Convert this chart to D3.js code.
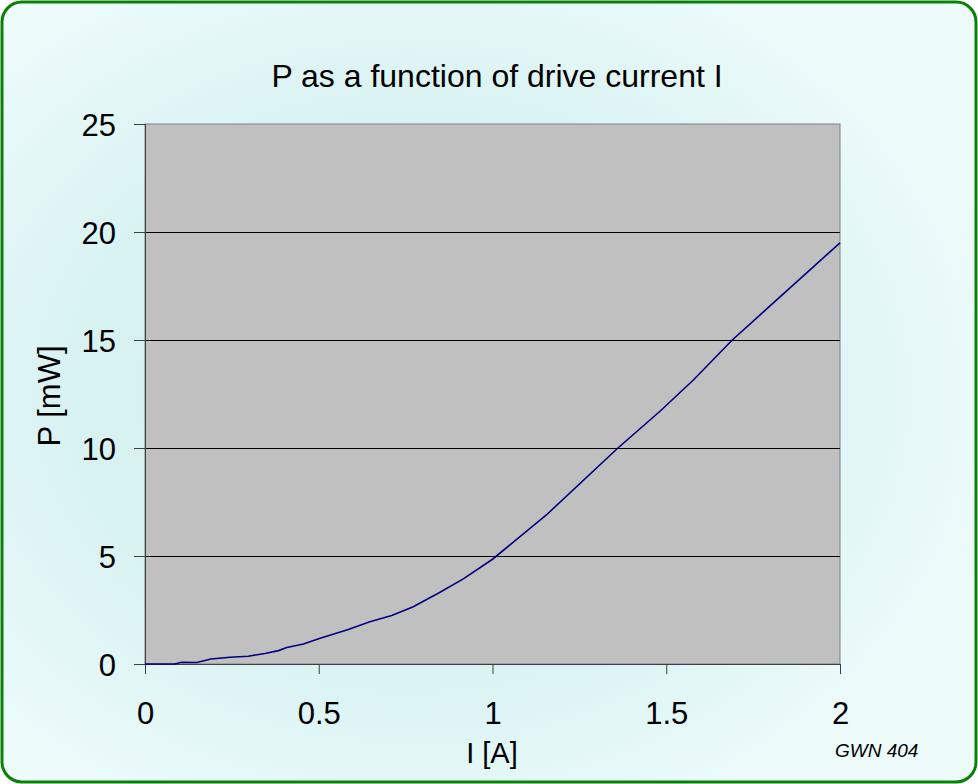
<!DOCTYPE html>
<html>
<head>
<meta charset="utf-8">
<script src="https://cdn.jsdelivr.net/npm/d3@7"></script>
<style>
  body { margin: 0; background: #ffffff; }
  svg { display: block; font-family: "Liberation Sans", Arial, sans-serif; }
</style>
</head>
<body>
<div id="chart"></div>
<script>
// drive current I [A] and output power P [mW]
var current = [0, 0.086, 0.105, 0.149, 0.19, 0.245, 0.297, 0.345, 0.384, 0.408, 0.456,
               0.504, 0.585, 0.647, 0.71, 0.772, 0.849, 0.916, 1.0, 1.155, 1.361,
               1.482, 1.578, 1.69, 2.0];
var power = [0, 0, 0.08, 0.07, 0.23, 0.31, 0.36, 0.49, 0.62, 0.76, 0.93,
             1.19, 1.6, 1.96, 2.25, 2.65, 3.32, 3.94, 4.85, 6.9, 10.0,
             11.7, 13.15, 15.0, 19.5];
var xTicks = [0, 0.5, 1, 1.5, 2];
var yTicks = [0, 5, 10, 15, 20, 25];

var W = 978, H = 784;
var plot = {left: 145, top: 124, right: 840, bottom: 664};

var svg = d3.select('#chart').append('svg')
    .attr('width', W).attr('height', H);

var defs = svg.append('defs');
var grad = defs.append('radialGradient')
    .attr('id', 'bg')
    .attr('cx', '0.42').attr('cy', '0.5').attr('r', '0.62');
grad.append('stop').attr('offset', '0%').attr('stop-color', '#d3efef');
grad.append('stop').attr('offset', '55%').attr('stop-color', '#d8f2f2');
grad.append('stop').attr('offset', '100%').attr('stop-color', '#eefbfb');

svg.append('rect')
    .attr('x', 2).attr('y', 2)
    .attr('width', W - 4).attr('height', H - 4)
    .attr('rx', 20).attr('ry', 20)
    .attr('fill', 'url(#bg)')
    .attr('stroke', '#0a800a')
    .attr('stroke-width', 3);

var x = d3.scaleLinear().domain([0, 2]).range([plot.left, plot.right]);
var y = d3.scaleLinear().domain([0, 25]).range([plot.bottom, plot.top]);

svg.append('rect')
    .attr('x', plot.left).attr('y', plot.top)
    .attr('width', plot.right - plot.left).attr('height', plot.bottom - plot.top)
    .attr('fill', '#c0c0c0')
    .attr('stroke', '#808080')
    .attr('stroke-width', 1);

// gridlines
svg.append('g').selectAll('line')
    .data(yTicks.filter(function(d) { return d > 0 && d < 25; }))
    .enter().append('line')
    .attr('x1', plot.left).attr('x2', plot.right)
    .attr('y1', function(d) { return Math.round(y(d)) + 0.5; })
    .attr('y2', function(d) { return Math.round(y(d)) + 0.5; })
    .attr('stroke', '#000')
    .attr('stroke-width', 1);

var xAxis = svg.append('g')
    .attr('transform', 'translate(0,' + plot.bottom + ')')
    .call(d3.axisBottom(x).tickValues(xTicks).tickSize(10).tickPadding(28)
          .tickFormat(d3.format('')));
var yAxis = svg.append('g')
    .attr('transform', 'translate(' + plot.left + ',0)')
    .call(d3.axisLeft(y).tickValues(yTicks).tickSize(11).tickPadding(18));

[xAxis, yAxis].forEach(function(a) {
    a.select('.domain').attr('stroke', '#404040');
    a.selectAll('.tick line').attr('stroke', '#404040');
    a.selectAll('text').attr('fill', '#000')
        .style('font-size', '31px')
        .style('font-family', '"Liberation Sans", Arial, sans-serif');
});
yAxis.selectAll('text').attr('dy', '0.36em');

var line = d3.line()
    .x(function(d, i) { return x(current[i]); })
    .y(function(d) { return y(d); });

svg.append('path')
    .datum(power)
    .attr('d', line)
    .attr('fill', 'none')
    .attr('stroke', '#000080')
    .attr('stroke-width', 1.6);

svg.append('text')
    .attr('x', 497).attr('y', 87)
    .attr('text-anchor', 'middle')
    .style('font-size', '32px')
    .text('P as a function of drive current I');

svg.append('text')
    .attr('x', 492).attr('y', 763)
    .attr('text-anchor', 'middle')
    .style('font-size', '29px')
    .text('I [A]');

svg.append('text')
    .attr('transform', 'translate(60,396) rotate(-90)')
    .attr('text-anchor', 'middle')
    .style('font-size', '31px')
    .text('P [mW]');

svg.append('text')
    .attr('x', 835).attr('y', 757)
    .style('font-size', '19px')
    .style('font-style', 'italic')
    .text('GWN 404');
</script>
</body>
</html>
